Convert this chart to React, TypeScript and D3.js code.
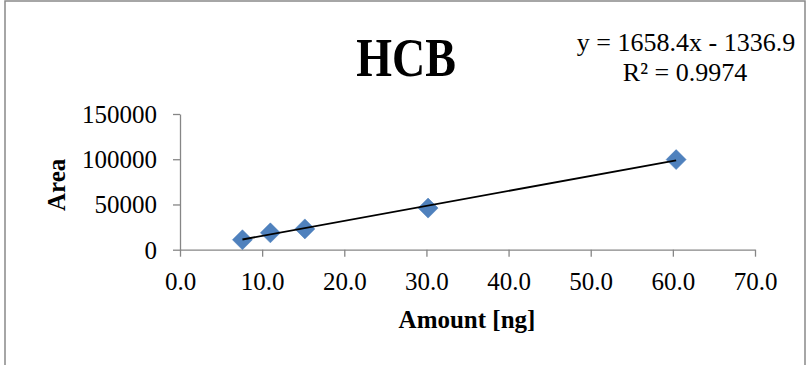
import React, { useEffect, useRef } from 'react';
import * as d3 from 'd3';

// measured points (amount in ng, peak area)
const amounts = [7.6, 11.0, 15.2, 30.2, 60.4];
const areas = [11000, 18600, 23000, 46000, 99600];
const xTicks = [0, 10, 20, 30, 40, 50, 60, 70];
const yTicks = [0, 50000, 100000, 150000];
const slope = 1658.4;
const intercept = -1336.9;
const equationText = 'y = 1658.4x - 1336.9';
const r2Text = 'R² = 0.9974';

const W = 806;
const H = 365;
const serif = '"Liberation Serif", "Times New Roman", serif';

export default function App() {
  const svgRef = useRef<SVGSVGElement | null>(null);

  useEffect(() => {
    const svg = d3.select(svgRef.current);
    svg.selectAll('*').remove();

    const x = d3.scaleLinear().domain([0, 70]).range([180, 755]);
    const y = d3.scaleLinear().domain([0, 150000]).range([249.7, 114]);

    // outer frame
    svg.append('rect')
      .attr('x', 5).attr('y', 1)
      .attr('width', 800).attr('height', 380)
      .attr('fill', 'white')
      .attr('stroke', '#898989')
      .attr('stroke-width', 1.5);

    // title (the original is drawn a bit taller than plain Times)
    svg.append('text')
      .attr('transform', 'translate(406,76) scale(1,1.2)')
      .attr('text-anchor', 'middle')
      .style('font-family', serif)
      .style('font-weight', 'bold')
      .style('font-size', '46px')
      .text('HCB');

    // --- axes ---
    const axisColor = '#868686';
    const yAxis = svg.append('g').attr('transform', `translate(${x(0)},0)`)
      .call(d3.axisLeft(y).tickValues(yTicks).tickSize(7).tickSizeOuter(0).tickFormat(d => String(d)).tickPadding(16));
    const xAxis = svg.append('g').attr('transform', `translate(0,${y(0)})`)
      .call(d3.axisBottom(x).tickValues(xTicks).tickSize(7).tickSizeOuter(0).tickFormat(d => (d as number).toFixed(1)).tickPadding(16));

    [xAxis, yAxis].forEach(a => {
      a.select('.domain').attr('stroke', axisColor).attr('stroke-width', 1.3);
      a.selectAll('.tick line').attr('stroke', axisColor).attr('stroke-width', 1.3);
      a.selectAll('.tick text')
        .attr('fill', '#000')
        .style('font-family', serif)
        .style('font-size', '25px');
    });
    yAxis.selectAll('.tick text').attr('dy', '0.34em');

    // axis titles
    svg.append('text')
      .attr('transform', `translate(65,${(y(0) + y(150000)) / 2 + 3}) rotate(-90)`)
      .attr('text-anchor', 'middle')
      .style('font-family', serif)
      .style('font-weight', 'bold')
      .style('font-size', '25px')
      .text('Area');

    svg.append('text')
      .attr('x', 467).attr('y', 328)
      .attr('text-anchor', 'middle')
      .style('font-family', serif)
      .style('font-weight', 'bold')
      .style('font-size', '25px')
      .text('Amount [ng]');

    // data markers (diamonds)
    const diamond = d3.symbol().type(d3.symbolSquare).size(200);
    svg.append('g')
      .selectAll('path')
      .data(amounts.map((a, i) => [a, areas[i]]))
      .enter()
      .append('path')
      .attr('d', diamond)
      .attr('transform', d => `translate(${x(d[0])},${y(d[1])}) rotate(45)`)
      .attr('fill', '#4F81BD')
      .attr('stroke', '#4A7EBB')
      .attr('stroke-width', 0.5);

    // linear trendline
    const [xMin, xMax] = d3.extent(amounts) as [number, number];
    const line = d3.line<number>().x(d => x(d)).y(d => y(slope * d + intercept));
    svg.append('path')
      .attr('d', line([xMin, xMax]))
      .attr('stroke', '#000')
      .attr('stroke-width', 1.8)
      .attr('fill', 'none');

    // equation label
    const eq = svg.append('text')
      .attr('text-anchor', 'middle')
      .style('font-family', serif)
      .style('font-size', '26px');
    eq.append('tspan').attr('x', 686).attr('y', 51).text(equationText);
    eq.append('tspan').attr('x', 685).attr('y', 81).text(r2Text);
  }, []);

  return (
    <div style={{ position: 'absolute', left: 0, top: 0, width: W, height: H, background: 'white' }}>
      <svg ref={svgRef} width={W} height={H} />
    </div>
  );
}
